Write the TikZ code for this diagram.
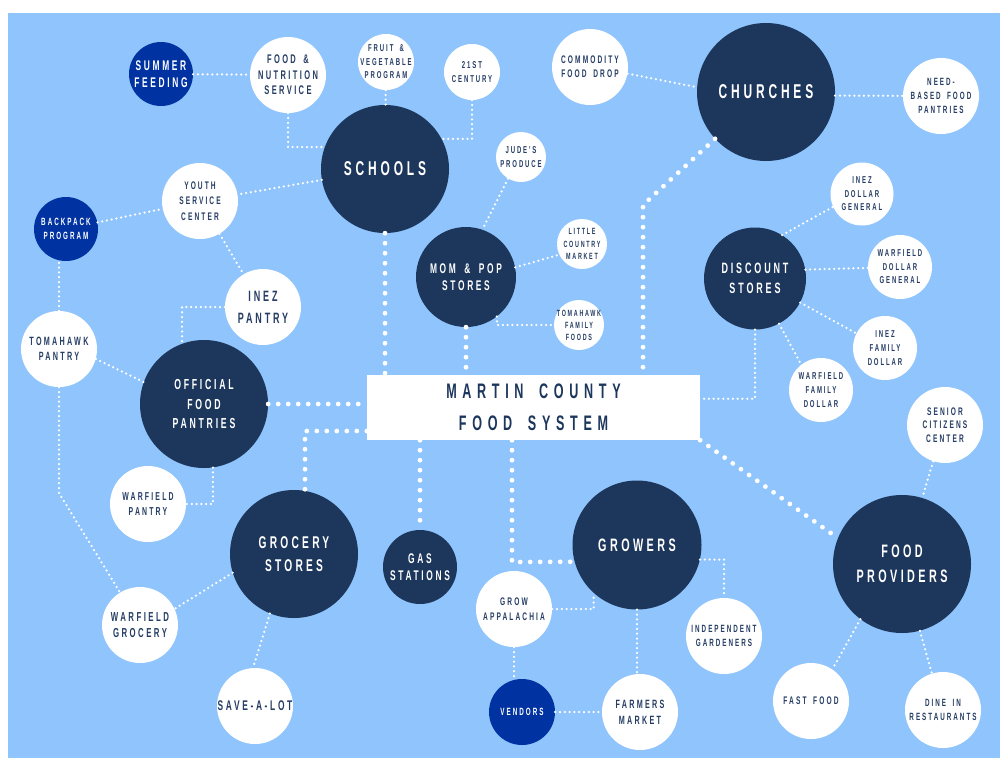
\documentclass[tikz,border=0pt]{standalone}
\usepackage{fontspec}
\usepackage{tikz}
\usepackage{xcolor}

\definecolor{sky}{HTML}{8FC4FC}
\definecolor{navy}{HTML}{1C365C}
\definecolor{royal}{HTML}{0033A1}
\definecolor{ink}{HTML}{253D64}

\newfontfamily\bebas{Liberation Sans}[FakeStretch=0.6,LetterSpace=19,WordSpace=1.7]
\newfontfamily\bebaswide{Liberation Sans}[FakeStretch=0.6,LetterSpace=27,WordSpace=1.7]
\newcommand{\lf}[2]{\bebas\bfseries\fontsize{#1}{#2}\selectfont}

\tikzset{
  hub/.style={circle,fill=navy,text=white,inner sep=-10pt,align=center,minimum size=#1},
  leaf/.style={circle,fill=white,text=ink,inner sep=-10pt,align=center,minimum size=#1},
  spot/.style={circle,fill=royal,text=white,inner sep=-10pt,align=center,minimum size=#1},
  thinlink/.style={draw=white,line width=2.5pt,line cap=round,dash pattern=on 0pt off 4.8pt},
  fatlink/.style={draw=white,line width=4.8pt,line cap=round,dash pattern=on 0pt off 10pt},
}

\begin{document}
\begin{tikzpicture}[x=1pt,y=-1pt]
\fill[white] (0,0) rectangle (1000,758);
\fill[sky] (8,13) rectangle (1000,758); % backdrop

% centre box
\node[fill=white,text=navy,minimum width=333pt,minimum height=65pt,inner sep=0,align=center,
  font=\bebaswide\bfseries\fontsize{21}{32}\selectfont] (martin) at (533.5,407.5) {MARTIN COUNTY\\FOOD SYSTEM};

% the hubs
\node[hub=128pt,font=\lf{20}{26}] (schools) at (385,169) {SCHOOLS};
\node[hub=138pt,font=\lf{20}{26}] (churches) at (766,92) {CHURCHES};
\node[hub=100pt,font=\lf{14}{17.5}] (mompop) at (466,277) {MOM \& POP\\STORES};
\node[hub=102pt,font=\lf{15}{19.5}] (discount) at (755,278.5) {DISCOUNT\\STORES};
\node[hub=128pt,font=\lf{14.5}{19.5}] (official) at (204,404) {OFFICIAL\\FOOD\\PANTRIES};
\node[hub=128pt,font=\lf{17}{23}] (grocery) at (294,554) {GROCERY\\STORES};
\node[hub=74pt,font=\lf{14}{17.5}] (gas) at (420,567) {GAS\\STATIONS};
\node[hub=129pt,font=\lf{18}{25}] (growers) at (637,545) {GROWERS};
\node[hub=138pt,font=\lf{18}{25}] (providers) at (902,564) {FOOD\\PROVIDERS};

% bright ones
\node[spot=64pt,font=\lf{14}{16.5}] (summer) at (161,74) {SUMMER\\FEEDING};
\node[spot=64pt,font=\lf{10.5}{13.3}] (backpack) at (66,229) {BACKPACK\\PROGRAM};
\node[spot=66pt,font=\lf{10.5}{13.3}] (vendors) at (522,712) {VENDORS};

% white ones
\node[leaf=76pt,font=\lf{12.5}{15.5}] (fns) at (288,75) {FOOD \&\\NUTRITION\\SERVICE};
\node[leaf=56pt,font=\lf{10}{13.5}] (fruitveg) at (386,62) {FRUIT \&\\VEGETABLE\\PROGRAM};
\node[leaf=56pt,font=\lf{10}{13.3}] (century) at (472,72) {21ST\\CENTURY};
\node[leaf=76pt,font=\lf{11}{14}] (commodity) at (590,67) {COMMODITY\\FOOD DROP};
\node[leaf=76pt,font=\lf{10.5}{13.7}] (needbased) at (941,96) {NEED-\\BASED FOOD\\PANTRIES};
\node[leaf=50pt,font=\lf{10}{13.3}] (jude) at (521,157) {JUDE'S\\PRODUCE};
\node[leaf=50pt,font=\lf{9}{12.8}] (littlecountry) at (582,244) {LITTLE\\COUNTRY\\MARKET};
\node[leaf=50pt,font=\lf{9}{12}] (tomfamily) at (579,325) {TOMAHAWK\\FAMILY\\FOODS};
\node[leaf=63pt,font=\lf{10}{13.6}] (inezdg) at (862,194) {INEZ\\DOLLAR\\GENERAL};
\node[leaf=64pt,font=\lf{10}{13.6}] (warfielddg) at (900,267) {WARFIELD\\DOLLAR\\GENERAL};
\node[leaf=64pt,font=\lf{10}{13.8}] (inezfd) at (885,348) {INEZ\\FAMILY\\DOLLAR};
\node[leaf=64pt,font=\lf{10}{13.7}] (warfieldfd) at (821,390) {WARFIELD\\FAMILY\\DOLLAR};
\node[leaf=76pt,font=\lf{11}{13.5}] (senior) at (945,425) {SENIOR\\CITIZENS\\CENTER};
\node[leaf=76pt,font=\lf{11}{15.5}] (youth) at (200,201) {YOUTH\\SERVICE\\CENTER};
\node[leaf=76pt,font=\lf{15}{21.7}] (inezpantry) at (263,307) {INEZ\\PANTRY};
\node[leaf=76pt,font=\lf{12}{15}] (tompantry) at (59,349) {TOMAHAWK\\PANTRY};
\node[leaf=76pt,font=\lf{11.5}{14.3}] (warfieldpantry) at (148,504) {WARFIELD\\PANTRY};
\node[leaf=76pt,font=\lf{13}{16.7}] (warfieldgrocery) at (140,625) {WARFIELD\\GROCERY};
\node[leaf=76pt,font=\lf{14}{17}] (savealot) at (255,706) {SAVE-A-LOT};
\node[leaf=76pt,font=\lf{11}{15.3}] (growapp) at (514,609) {GROW\\APPALACHIA};
\node[leaf=76pt,font=\lf{12}{15.7}] (farmers) at (640,712) {FARMERS\\MARKET};
\node[leaf=76pt,font=\lf{10.5}{14}] (indep) at (724,636) {INDEPENDENT\\GARDENERS};
\node[leaf=76pt,font=\lf{11}{14}] (fastfood) at (811,701) {FAST FOOD};
\node[leaf=76pt,font=\lf{10.5}{13.7}] (dinein) at (943,710) {DINE IN\\RESTAURANTS};

% bends
\coordinate (tbend) at (59,493);
\coordinate (gbend) at (305,431);
\coordinate (cbend) at (643,205);
\coordinate (gwbend) at (512,562);

% into the centre box
\draw[fatlink] (schools) -- (schools |- martin.north);
\draw[fatlink] (mompop) -- (mompop |- martin.north);
\draw[fatlink] (churches) -- (cbend) -- (cbend |- martin.north);
\draw[fatlink] (official) -- (official -| martin.west);
\draw[fatlink] (martin.west |- gbend) -- (gbend) -- (gbend |- grocery.north);
\draw[fatlink] (martin.south -| gas) -- (gas);
\draw[fatlink] (martin.south -| gwbend) -- (gwbend) -- (growers.195);
\draw[fatlink] (martin.south east) -- (providers.158);
\draw[thinlink] (discount) |- (martin.3);

% schools side
\draw[thinlink] (summer) -- (fns);
\draw[thinlink] (fns) |- (schools.160);
\draw[thinlink] (fruitveg) -- (schools);
\draw[thinlink] (century) |- (schools.28);
\draw[thinlink] (schools) -- (youth);
\draw[thinlink] (backpack) -- (youth);
\draw[thinlink] (youth) -- (inezpantry);

% pantries
\draw[thinlink] (tompantry.north) -- (tompantry.north |- backpack.south);
\draw[thinlink] (inezpantry) -| (official.110);
\draw[thinlink] (tompantry.-15) -- (official.160);
\draw[thinlink] (tompantry) -- (tbend) -- (warfieldgrocery);
\draw[thinlink] (official.-82) |- (warfieldpantry);

% groceries
\draw[thinlink] (grocery.197) -- (warfieldgrocery.25);
\draw[thinlink] (grocery.-112) -- (savealot.93);

% stores and churches
\draw[thinlink] (commodity.-10) -- (churches.176);
\draw[thinlink] (churches.-3) -- (needbased);
\draw[thinlink] (jude.239) -- (mompop.71);
\draw[thinlink] (mompop.11) -- (littlecountry.205);
\draw[thinlink] (mompop.-52) |- (tomfamily);
\draw[thinlink] (discount.58) -- (inezdg.204);
\draw[thinlink] (discount.10) -- (warfielddg);
\draw[thinlink] (discount.-28) -- (inezfd.153);
\draw[thinlink] (discount.-62) -- (warfieldfd.128);

% growers and providers
\draw[thinlink] (growapp) -| (growers.228);
\draw[thinlink] (growapp) -- (growapp |- vendors.north);
\draw[thinlink] (vendors) -- (farmers);
\draw[thinlink] (growers) -- (growers |- farmers.north);
\draw[thinlink] (growers.-13) -| (indep);
\draw[thinlink] (senior.252) -- (providers.73);
\draw[thinlink] (providers.233) -- (fastfood.56);
\draw[thinlink] (providers.-75) -- (dinein.107);
\end{tikzpicture}
\end{document}
